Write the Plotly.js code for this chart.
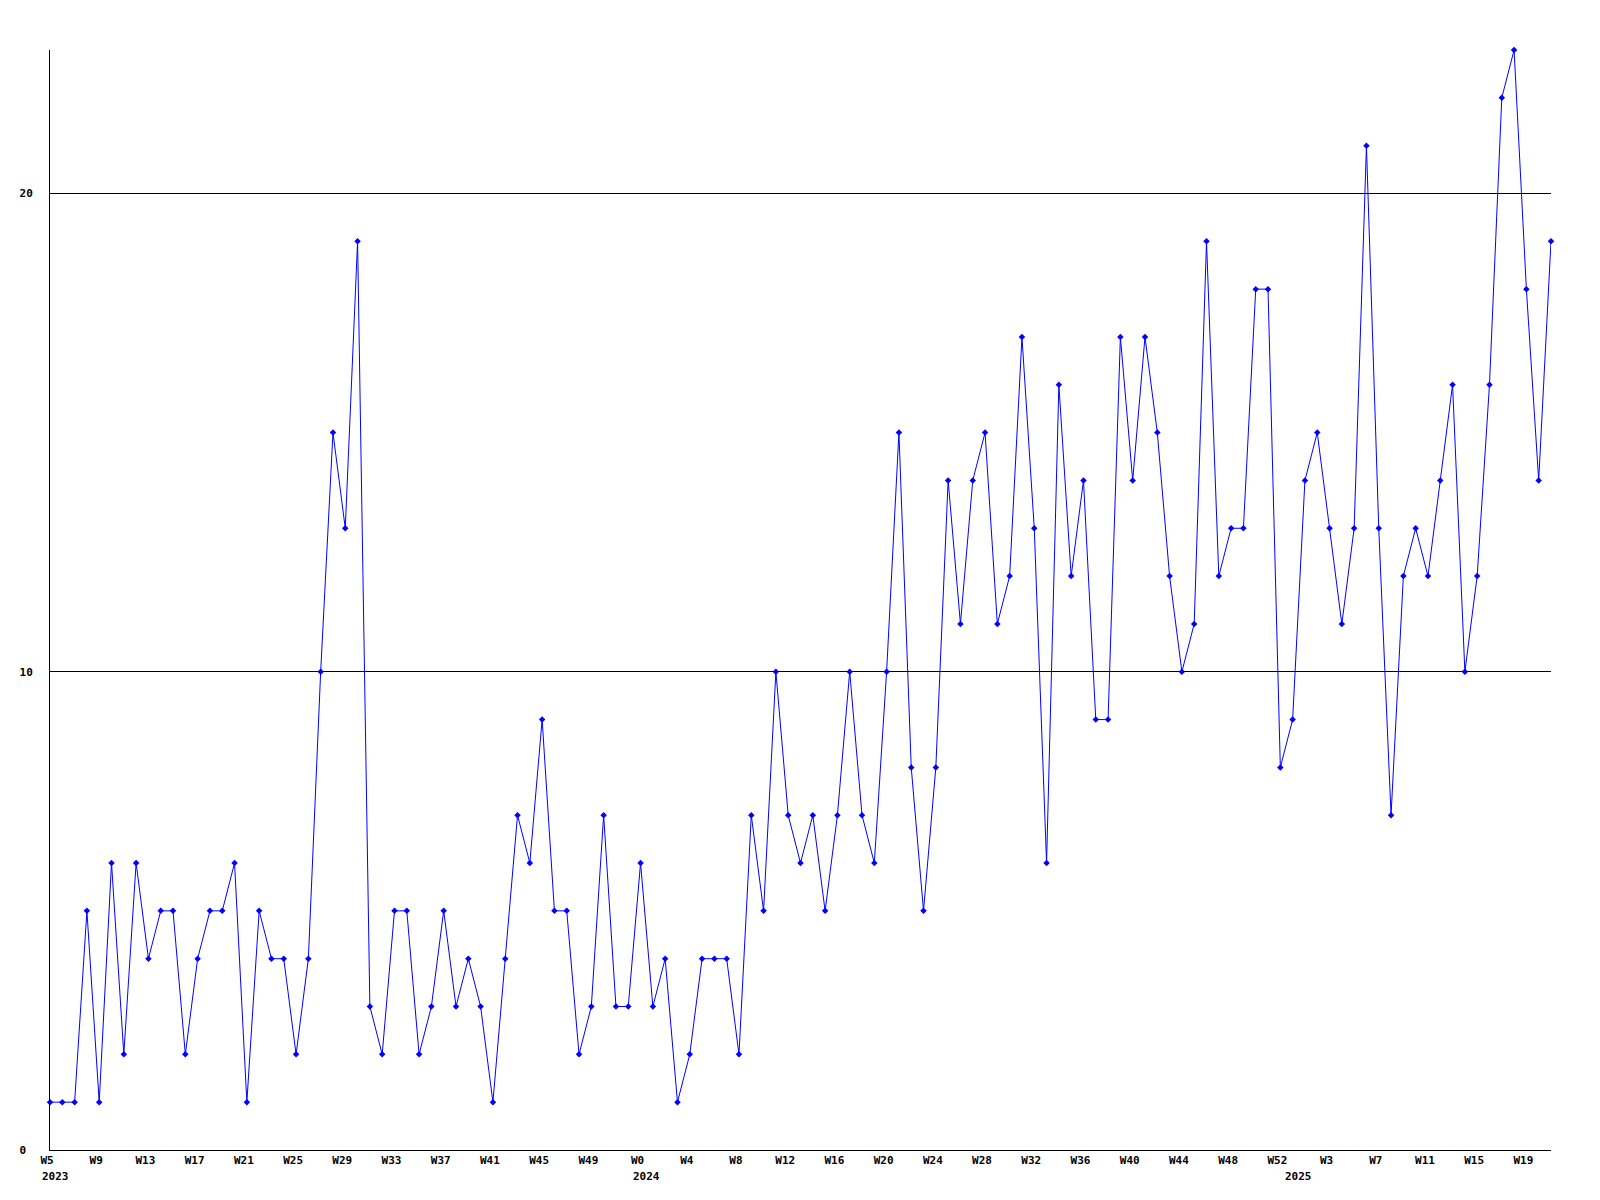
<!DOCTYPE html>
<html>
<head>
<meta charset="utf-8">
<script src="https://cdn.plot.ly/plotly-3.0.1.min.js"></script>
<style>html,body{margin:0;padding:0;background:#fff;}#chart{width:1600px;height:1200px;}</style>
</head>
<body>
<div id="chart"></div>
<script>
// Weekly values, 2023 W5 .. 2025 W21
const values2023 = [1,1,1,5,1,6,2,6,4,5,5,2,4,5,5,6,1,5,4,4,2,4,10,15,13,19,3,2,5,5,2,3,5,3,4,3,1,4,7,6,9,5,5,2,3,7,3,3];
const values2024 = [6,3,4,1,2,4,4,4,2,7,5,10,7,6,7,5,7,10,7,6,10,15,8,5,8,14,11,14,15,11,12,17,13,6,16,12,14,9,9,17,14,17,15,12,10,11,19,12,13,13,18,18,8];
const values2025 = [9,14,15,13,11,13,21,13,7,12,13,12,14,16,10,12,16,22,23,18,14,19];
const weekStart = {2023: 5, 2024: 0, 2025: 0};
const years = [2023, 2024, 2025];
const yTicks = [0, 10, 20];

const series = [values2023, values2024, values2025];
const x = [], y = [], weekLabel = [], yearStartIdx = [];
series.forEach((vals, k) => {
  yearStartIdx.push(x.length);
  vals.forEach((v, i) => {
    weekLabel.push('W' + (weekStart[years[k]] + i));
    x.push(x.length);
    y.push(v);
  });
});
const tickvals = [], ticktext = [];
for (let i = 0; i < x.length; i += 4) { tickvals.push(i); ticktext.push(weekLabel[i]); }

// left-align y labels (monospace): pad shorter labels with non-breaking spaces
const maxLen = Math.max(...yTicks.map(v => String(v).length));
const yTickText = yTicks.map(v => String(v) + '\u00a0'.repeat(maxLen - String(v).length));

const font = {family: 'DejaVu Sans Mono, Liberation Mono, monospace', size: 11, color: '#000', weight: 'bold'};

const trace = {
  x: x, y: y, type: 'scatter', mode: 'lines+markers',
  line: {color: '#0000ff', width: 1},
  marker: {color: '#0000ff', size: 5, symbol: 'diamond'},
  cliponaxis: false, hoverinfo: 'skip'
};

const annotations = years.map((yr, k) => ({
  x: yearStartIdx[k], xref: 'x', y: -0.0245, yref: 'paper',
  text: String(yr), showarrow: false, xanchor: 'left', yanchor: 'middle',
  xshift: -10, font: font
}));

const layout = {
  width: 1600, height: 1200,
  margin: {l: 50, r: 49, t: 50, b: 50},
  paper_bgcolor: '#fff', plot_bgcolor: '#fff',
  showlegend: false,
  xaxis: {
    range: [0, x.length - 1], tickvals: tickvals, ticktext: ticktext,
    showgrid: false, zeroline: false, showline: true, linecolor: '#000', linewidth: 1,
    ticks: '', tickfont: font, ticklabelshift: -3, fixedrange: true
  },
  yaxis: {
    range: [0, 23], tickvals: yTicks, ticktext: yTickText,
    showgrid: true, gridcolor: '#000', gridwidth: 1,
    zeroline: false, showline: true, linecolor: '#000', linewidth: 1,
    ticks: '', tickfont: font, ticklabelstandoff: 14, fixedrange: true
  },
  annotations: annotations
};

Plotly.newPlot('chart', [trace], layout, {displayModeBar: false, staticPlot: true});
</script>
</body>
</html>
